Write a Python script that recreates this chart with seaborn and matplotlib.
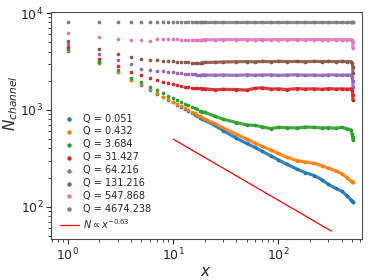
import matplotlib
matplotlib.use('Agg')
import matplotlib.pyplot as plt
import numpy as np
import pandas as pd
import seaborn as sns

# Q values of the eight runs
q_values = ['0.051', '0.432', '3.684', '31.427', '64.216', '131.216', '547.868', '4674.238']

# x positions: every integer up to 20, then read-off sample points
x_vals = list(range(1, 21)) + [25, 30, 40, 50, 60, 70, 85, 100, 120, 150, 180, 220,
                                260, 300, 350, 400, 450, 490, 505, 510, 512]

n_q0051 = [4100, 3040, 2460, 2030, 1820, 1620, 1475, 1360, 1275, 1200, 1130, 1070, 1020, 975,
           935, 895, 860, 830, 805, 780,
           690, 610, 510, 450, 410, 375, 335, 305, 275, 245, 225, 210, 190, 170, 155, 145,
           130, 118, 114, 113, 112]
n_q0432 = [4160, 3070, 2480, 2050, 1840, 1635, 1485, 1370, 1290, 1218, 1150, 1090, 1040, 995,
           955, 920, 885, 855, 830, 805,
           720, 650, 560, 500, 455, 420, 385, 355, 325, 300, 290, 280, 265, 250, 235, 220,
           200, 185, 180, 179, 178]
n_q3684 = [4260, 3130, 2565, 2150, 1920, 1740, 1600, 1500, 1400, 1320, 1260, 1200, 1150, 1110,
           1070, 1040, 1010, 985, 960, 940,
           860, 800, 740, 700, 690, 670, 640, 660, 655, 650, 665, 660, 650, 655, 645, 660,
           640, 620, 560, 520, 490]
n_q31427 = [4500, 3380, 2850, 2480, 2280, 2120, 2025, 1960, 1885, 1840, 1800, 1770, 1740, 1720,
            1700, 1690, 1680, 1670, 1660, 1650,
            1610, 1630, 1620, 1600, 1670, 1690, 1640, 1650, 1620, 1660, 1640, 1650, 1630, 1660,
            1640, 1650, 1630, 1650, 1600, 1420, 1260]
n_q64216 = [4750, 3780, 3270, 2960, 2670, 2580, 2540, 2505, 2470, 2450, 2420, 2400, 2370, 2350,
            2330, 2320, 2310, 2300, 2295, 2290,
            2280, 2290, 2270, 2300, 2280, 2290, 2300, 2270, 2290, 2300, 2280, 2290, 2270, 2300,
            2290, 2280, 2290, 2280, 2200, 2000, 1740]
n_q131216 = [5140, 4230, 3780, 3490, 3360, 3270, 3240, 3210, 3190, 3170, 3150, 3130, 3110, 3090,
             3080, 3070, 3070, 3070, 3080, 3090,
             3100, 3120, 3140, 3150, 3130, 3160, 3140, 3170, 3150, 3160, 3140, 3170, 3150, 3160,
             3150, 3160, 3150, 3150, 3050, 2800, 2390]
n_q547868 = [6270, 5700, 5360, 5270, 5270, 5200, 5360, 5360, 5360, 5360, 5330, 5310, 5300, 5300,
             5300, 5290, 5300, 5310, 5300, 5300,
             5290, 5310, 5300, 5320, 5290, 5310, 5300, 5320, 5300, 5310, 5300, 5320, 5310, 5300,
             5310, 5300, 5310, 5300, 5250, 5000, 4390]
n_q4674238 = [8130] + [8050] * 40

series = [n_q0051, n_q0432, n_q3684, n_q31427, n_q64216, n_q131216, n_q547868, n_q4674238]

# reference power law N ~ x^-0.63 (end points)
fit_x = [10, 320]
fit_n = [500, 56]

sns.set_style('ticks')
plt.rcParams['font.family'] = ['DejaVu Sans']
plt.rcParams['mathtext.fontset'] = 'dejavusans'

fig = plt.figure(figsize=(3.74, 2.8), dpi=100)
ax = fig.add_axes([0.136, 0.145, 0.831, 0.813])

colors = sns.color_palette('tab10', 8)
x_arr = np.array(x_vals)
for q, n, c in zip(q_values, series, colors):
    df = pd.DataFrame({'x': x_arr, 'N': n})
    dense = df[df['x'] >= 19]
    sns.lineplot(data=dense, x='x', y='N', color=c, linewidth=2.3, ax=ax,
                 legend=False, alpha=0.9)
    sns.scatterplot(data=df, x='x', y='N', color=c, s=7, linewidth=0, ax=ax,
                    label=f'Q = {q}')

sns.lineplot(x=fit_x, y=fit_n, color='red', linewidth=0.9, ax=ax,
             label=r'$N \propto x^{-0.63}$')

ax.set_xscale('log')
ax.set_yscale('log')
ax.set_xlim(0.69, 620)
ax.set_ylim(46, 10300)
ax.set_xlabel('$x$', fontsize=11, labelpad=0)
ax.set_ylabel('$N_{channel}$', fontsize=11)
ax.yaxis.set_label_coords(-0.10, 0.60)
ax.tick_params(axis='both', which='major', labelsize=9, pad=2)

for s in ax.spines.values():
    s.set_color('0.3')

ax.legend(loc='lower left', frameon=False, fontsize=7, labelspacing=0.3,
          handletextpad=0.4, markerscale=1.2)

plt.savefig('out.png', dpi=100)
plt.close()
